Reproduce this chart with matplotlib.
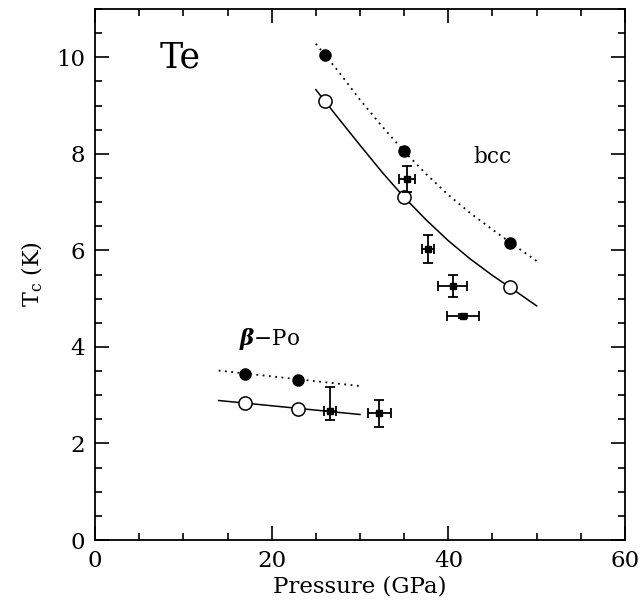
import matplotlib.pyplot as plt
import numpy as np
from matplotlib.ticker import MultipleLocator

# calculated Tc, bcc phase
bcc_p = [26, 35, 47]
bcc_tc_filled = [10.05, 8.05, 6.15]
bcc_tc_open = [9.1, 7.1, 5.25]

# guide curves
bcc_curve_p = [25, 27.5, 30, 32.5, 35, 37.5, 40, 42.5, 45, 47.5, 50]
bcc_curve_dot = [10.28, 9.72, 9.12, 8.57, 8.05, 7.58, 7.15, 6.77, 6.43, 6.10, 5.78]
bcc_curve_solid = [9.33, 8.75, 8.18, 7.62, 7.10, 6.63, 6.20, 5.82, 5.48, 5.17, 4.85]

# beta-Po phase
po_p = [17, 23]
po_tc_filled = [3.44, 3.32]
po_tc_open = [2.83, 2.72]
po_line_p = [14, 30]
po_line_dot = [3.51, 3.19]
po_line_solid = [2.89, 2.60]

# experiment
exp_p = [35.3, 37.7, 40.5, 41.7, 26.6, 32.2]
exp_tc = [7.47, 6.03, 5.27, 4.64, 2.68, 2.63]
exp_perr = [0.9, 0.65, 1.65, 1.8, 0.7, 1.3]
exp_tc_lo = [0.27, 0.29, 0.23, 0.05, 0.2, 0.28]
exp_tc_hi = [0.27, 0.29, 0.23, 0.05, 0.5, 0.28]

plt.rcParams['font.family'] = 'DejaVu Serif'
plt.rcParams['mathtext.fontset'] = 'dejavuserif'

fig = plt.figure(figsize=(6.42, 6.11), dpi=100)
ax = fig.add_axes([0.148, 0.1162, 0.8255, 0.869])

ax.plot(bcc_curve_p, bcc_curve_dot, ls=(0, (1, 2.5)), color='k', lw=1.3)
ax.plot(bcc_curve_p, bcc_curve_solid, ls='-', color='k', lw=1.1)
ax.plot(po_line_p, po_line_dot, ls=(0, (1, 2.5)), color='k', lw=1.3)
ax.plot(po_line_p, po_line_solid, ls='-', color='k', lw=1.1)

ax.plot(bcc_p, bcc_tc_filled, 'o', color='k', ms=8)
ax.plot(po_p, po_tc_filled, 'o', color='k', ms=8)
ax.plot(bcc_p, bcc_tc_open, 'o', mfc='white', mec='k', mew=1.1, ms=9.5)
ax.plot(po_p, po_tc_open, 'o', mfc='white', mec='k', mew=1.1, ms=9.5)

ax.errorbar(exp_p, exp_tc, xerr=exp_perr, yerr=[exp_tc_lo, exp_tc_hi],
            fmt='s', color='k', ms=4, elinewidth=1.3, capsize=3.5, capthick=1.3)

ax.text(7.3, 10.0, 'Te', fontsize=25, va='center', ha='left')
ax.text(45, 7.93, 'bcc', fontsize=15.5, va='center', ha='center')
ax.text(19.8, 4.16, r'$\boldsymbol{\beta}$$-$Po', fontsize=15.5, va='center', ha='center')

ax.set_xlim(0, 60)
ax.set_ylim(0, 11)
ax.xaxis.set_major_locator(MultipleLocator(20))
ax.xaxis.set_minor_locator(MultipleLocator(5))
ax.yaxis.set_major_locator(MultipleLocator(2))
ax.yaxis.set_minor_locator(MultipleLocator(0.5))
ax.tick_params(which='both', direction='in', top=True, right=True, labelsize=16.5, width=1.2)
ax.tick_params(which='major', length=10, pad=7)
ax.tick_params(which='minor', length=5)
for s in ax.spines.values():
    s.set_linewidth(1.3)

ax.set_xlabel('Pressure (GPa)', fontsize=16.5, labelpad=3)
ax.set_ylabel(r'T$_{\rm c}$ (K)', fontsize=16, labelpad=8)

plt.savefig('out.png', dpi=100)
